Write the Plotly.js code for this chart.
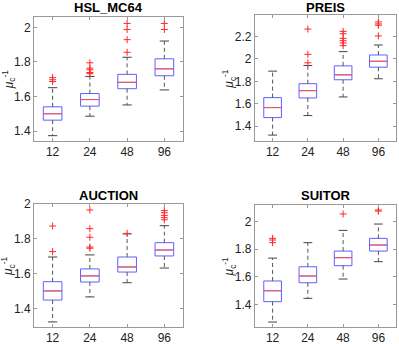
<!DOCTYPE html>
<html>
<head>
<meta charset="utf-8">
<script src="https://cdn.plot.ly/plotly-3.0.1.min.js"></script>
<style>
  html, body { margin: 0; padding: 0; background: #fff; }
  #plotDiv { width: 399px; height: 344px; }
</style>
</head>
<body>
<div id="plotDiv"></div>
<script>
var cats = ['12', '24', '48', '96'];
var names = ['HSL_MC64', 'PREIS', 'AUCTION', 'SUITOR'];

// box stats per solver, one value per processor count
var q1  = [[1.463, 1.544, 1.645, 1.720], [1.477, 1.652, 1.814, 1.926], [1.451, 1.554, 1.611, 1.703], [1.420, 1.557, 1.681, 1.787]];
var med = [[1.500, 1.582, 1.682, 1.760], [1.566, 1.717, 1.858, 1.979], [1.503, 1.589, 1.640, 1.737], [1.499, 1.606, 1.739, 1.831]];
var q3  = [[1.540, 1.617, 1.728, 1.818], [1.655, 1.779, 1.938, 2.035], [1.556, 1.629, 1.697, 1.779], [1.570, 1.673, 1.787, 1.879]];
var lo  = [[1.373, 1.486, 1.551, 1.638], [1.321, 1.495, 1.661, 1.823], [1.326, 1.469, 1.550, 1.634], [1.272, 1.444, 1.584, 1.710]];
var hi  = [[1.651, 1.716, 1.827, 1.921], [1.891, 1.941, 2.065, 2.124], [1.697, 1.709, 1.829, 1.876], [1.736, 1.848, 1.937, 1.983]];

// outliers
var out = [
  [[1.709, 1.697, 1.687], [1.795, 1.764, 1.755, 1.739, 1.732], [1.856, 1.929, 1.988, 2.023], [1.988, 2.023]],
  [[], [2.266, 2.041, 1.965], [2.245, 2.224, 2.183, 2.162, 2.142, 2.118], [2.330, 2.312, 2.300, 2.205]],
  [[1.874, 1.728], [1.966, 1.859, 1.810, 1.754, 1.747], [1.832], [1.962, 1.950, 1.935, 1.922, 1.910]],
  [[1.879, 1.867, 1.848], [], [2.056], [2.085, 2.077]]
];

var yRanges = [[1.342, 2.063], [1.268, 2.387], [1.297, 2.0], [1.236, 2.121]];
var yTicks = [[1.4, 1.6, 1.8, 2], [1.4, 1.6, 1.8, 2, 2.2], [1.4, 1.6, 1.8, 2], [1.4, 1.6, 1.8, 2]];

var xDom = [[0.0852, 0.4586], [0.639, 0.9925], [0.0852, 0.4586], [0.639, 0.9925]];
var yDom = [[0.590, 0.952], [0.590, 0.955], [0.0494, 0.407], [0.0494, 0.404]];
var titleY = [0.978, 0.978, 0.433, 0.433];

var boxW = 0.5;
var capW = 0.25;
var xs = [1, 2, 3, 4];

var data = [];
var layout = {
  width: 399,
  height: 344,
  margin: {l: 0, r: 0, t: 0, b: 0},
  paper_bgcolor: '#fff',
  plot_bgcolor: '#fff',
  showlegend: false,
  font: {family: 'Liberation Sans, Arial, sans-serif', size: 12, color: '#222'},
  annotations: []
};

for (var p = 0; p < 4; p++) {
  var sfx = p === 0 ? '' : String(p + 1);
  var xa = 'x' + sfx, ya = 'y' + sfx;

  data.push({
    type: 'box', xaxis: xa, yaxis: ya,
    x: xs, q1: q1[p], median: med[p], q3: q3[p],
    lowerfence: q1[p], upperfence: q3[p],
    width: boxW, whiskerwidth: 0,
    fillcolor: 'rgba(0,0,0,0)',
    line: {color: 'rgb(95,95,255)', width: 1},
    hoverinfo: 'skip'
  });

  var wx = [], wy = [], cx = [], cy = [], mx = [], my = [], ox = [], oy = [];
  for (var i = 0; i < 4; i++) {
    wx.push(xs[i], xs[i], null, xs[i], xs[i], null);
    wy.push(q3[p][i], hi[p][i], null, q1[p][i], lo[p][i], null);
    cx.push(xs[i] - capW / 2, xs[i] + capW / 2, null, xs[i] - capW / 2, xs[i] + capW / 2, null);
    cy.push(hi[p][i], hi[p][i], null, lo[p][i], lo[p][i], null);
    mx.push(xs[i] - boxW / 2, xs[i] + boxW / 2, null);
    my.push(med[p][i], med[p][i], null);
    for (var k = 0; k < out[p][i].length; k++) {
      ox.push(xs[i]);
      oy.push(out[p][i][k]);
    }
  }

  data.push({
    type: 'scatter', mode: 'lines', xaxis: xa, yaxis: ya,
    x: wx, y: wy, line: {color: '#555', width: 1, dash: '4px,3px'}, hoverinfo: 'skip'
  });
  data.push({
    type: 'scatter', mode: 'lines', xaxis: xa, yaxis: ya,
    x: cx, y: cy, line: {color: '#444', width: 1}, hoverinfo: 'skip'
  });
  data.push({
    type: 'scatter', mode: 'lines', xaxis: xa, yaxis: ya,
    x: mx, y: my, line: {color: 'rgb(255,80,80)', width: 1}, hoverinfo: 'skip'
  });
  data.push({
    type: 'scatter', mode: 'markers', xaxis: xa, yaxis: ya,
    x: ox, y: oy,
    marker: {symbol: 'cross-thin', size: 5, line: {color: 'rgb(255,40,40)', width: 1}},
    hoverinfo: 'skip'
  });

  layout['xaxis' + sfx] = {
    domain: xDom[p], anchor: ya, range: [0.5, 4.5],
    tickvals: xs, ticktext: cats,
    ticks: 'inside', ticklen: 3, tickcolor: '#999',
    showline: true, linecolor: '#999', linewidth: 1, mirror: 'ticks',
    showgrid: false, zeroline: false, fixedrange: true,
    tickfont: {size: 12}
  };
  layout['yaxis' + sfx] = {
    domain: yDom[p], anchor: xa, range: yRanges[p],
    tickvals: yTicks[p], ticktext: yTicks[p].map(function (v) { return String(v); }),
    ticks: 'inside', ticklen: 3, tickcolor: '#999',
    showline: true, linecolor: '#999', linewidth: 1, mirror: 'ticks',
    showgrid: false, zeroline: false, fixedrange: true,
    tickfont: {size: 12}
  };

  var midX = (xDom[p][0] + xDom[p][1]) / 2;
  layout.annotations.push({
    xref: 'paper', yref: 'paper', x: midX, y: titleY[p],
    xanchor: 'center', yanchor: 'middle', showarrow: false, borderpad: 0,
    text: '<b>' + names[p] + '</b>', font: {size: 13, color: '#000'}
  });
  layout.annotations.push({
    xref: 'paper', yref: 'paper',
    x: xDom[p][0] - 0.064, y: (yDom[p][0] + yDom[p][1]) / 2,
    xanchor: 'center', yanchor: 'middle', showarrow: false, textangle: -90, borderpad: 0,
    text: '<i>μ</i><sub>c</sub><sup>-1</sup>', font: {size: 12, color: '#222'}
  });
}

Plotly.newPlot('plotDiv', data, layout, {displayModeBar: false, staticPlot: true});
</script>
</body>
</html>
